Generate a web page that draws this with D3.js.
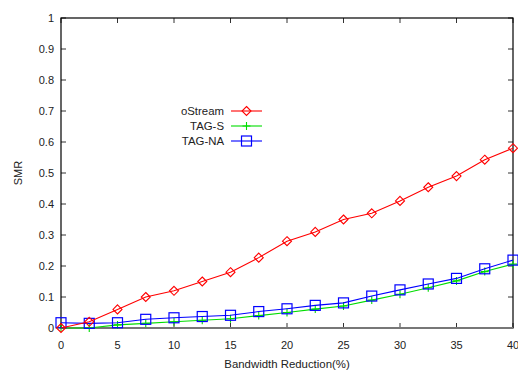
<!DOCTYPE html>
<html>
<head>
<meta charset="utf-8">
<script src="https://cdn.jsdelivr.net/npm/d3@7"></script>
<style>
  body { margin: 0; background: #fff; }
  text { font-family: "Liberation Sans", Arial, sans-serif; fill: #222; }
</style>
</head>
<body>
<div id="chart"></div>
<script>
// bandwidth reduction (%) on x
let xValues = [0, 2.5, 5, 7.5, 10, 12.5, 15, 17.5, 20, 22.5, 25, 27.5, 30, 32.5, 35, 37.5, 40];
let oStream = [0.0, 0.02, 0.06, 0.10, 0.12, 0.15, 0.18, 0.227, 0.28, 0.31, 0.35, 0.37, 0.41, 0.454, 0.49, 0.543, 0.58];
let tagS = [0.0, 0.0, 0.01, 0.015, 0.02, 0.025, 0.03, 0.04, 0.05, 0.061, 0.071, 0.09, 0.109, 0.13, 0.152, 0.182, 0.206];
let tagNA = [0.017, 0.015, 0.017, 0.028, 0.033, 0.037, 0.041, 0.053, 0.062, 0.073, 0.081, 0.103, 0.123, 0.142, 0.16, 0.191, 0.219];
let xTicks = [0, 5, 10, 15, 20, 25, 30, 35, 40];
let yTicks = [0, 0.1, 0.2, 0.3, 0.4, 0.5, 0.6, 0.7, 0.8, 0.9, 1];
let seriesNames = ["oStream", "TAG-S", "TAG-NA"];

let w = 518, h = 371;
let pLeft = 61, pRight = 513, pTop = 18, pBottom = 328;

let svg = d3.select("#chart").append("svg")
  .attr("width", w)
  .attr("height", h);

let xScale = d3.scaleLinear().domain([0, 40]).range([pLeft, pRight]);
let yScale = d3.scaleLinear().domain([0, 1]).range([pBottom, pTop]);

// inward ticks on all four sides
let tickLen = 5;
svg.append("g")
  .selectAll("line")
  .data(xTicks)
  .enter()
  .append("line")
  .attr("x1", d => xScale(d)).attr("x2", d => xScale(d))
  .attr("y1", pBottom).attr("y2", pBottom - tickLen)
  .attr("stroke", "#333");
svg.append("g")
  .selectAll("line")
  .data(xTicks)
  .enter()
  .append("line")
  .attr("x1", d => xScale(d)).attr("x2", d => xScale(d))
  .attr("y1", pTop).attr("y2", pTop + tickLen)
  .attr("stroke", "#333");
svg.append("g")
  .selectAll("line")
  .data(yTicks)
  .enter()
  .append("line")
  .attr("x1", pLeft).attr("x2", pLeft + tickLen)
  .attr("y1", d => yScale(d)).attr("y2", d => yScale(d))
  .attr("stroke", "#333");
svg.append("g")
  .selectAll("line")
  .data(yTicks)
  .enter()
  .append("line")
  .attr("x1", pRight).attr("x2", pRight - tickLen)
  .attr("y1", d => yScale(d)).attr("y2", d => yScale(d))
  .attr("stroke", "#333");

// frame
svg.append("rect")
  .attr("x", pLeft).attr("y", pTop)
  .attr("width", pRight - pLeft).attr("height", pBottom - pTop)
  .attr("fill", "none")
  .attr("stroke", "#000")
  .attr("stroke-width", 1.2);
svg.append("line")
  .attr("x1", pLeft).attr("x2", pRight)
  .attr("y1", pBottom).attr("y2", pBottom)
  .attr("stroke", "#777")
  .attr("stroke-width", 2);

// tick labels
svg.selectAll("text.xl")
  .data(xTicks)
  .enter()
  .append("text")
  .attr("class", "xl")
  .attr("x", d => xScale(d))
  .attr("y", pBottom + 21)
  .attr("text-anchor", "middle")
  .attr("font-size", "11px")
  .text(d => d);

svg.selectAll("text.yl")
  .data(yTicks)
  .enter()
  .append("text")
  .attr("class", "yl")
  .attr("x", pLeft - 7)
  .attr("y", d => yScale(d) + 4)
  .attr("text-anchor", "end")
  .attr("font-size", "11px")
  .text(d => d);

// axis titles
svg.append("text")
  .attr("transform", "translate(22," + ((pTop + pBottom) / 2) + ") rotate(-90)")
  .attr("text-anchor", "middle")
  .attr("font-size", "11px")
  .text("SMR");
svg.append("text")
  .attr("x", (pLeft + pRight) / 2)
  .attr("y", 368)
  .attr("text-anchor", "middle")
  .attr("font-size", "11.4px")
  .text("Bandwidth Reduction(%)");

let line = d3.line()
  .x(d => xScale(d[0]))
  .y(d => yScale(d[1]));

function drawMarker(g, type, color, x, y) {
  if (type === "diamond") {
    g.append("path")
      .attr("d", "M" + x + "," + (y - 4.5) + "L" + (x + 4.5) + "," + y + "L" + x + "," + (y + 4.5) + "L" + (x - 4.5) + "," + y + "Z")
      .attr("fill", "none").attr("stroke", color).attr("stroke-width", 1.1);
  } else if (type === "plus") {
    g.append("path")
      .attr("d", "M" + (x - 4) + "," + y + "H" + (x + 4) + "M" + x + "," + (y - 4) + "V" + (y + 4))
      .attr("fill", "none").attr("stroke", color).attr("stroke-width", 1.1);
  } else {
    g.append("rect")
      .attr("x", x - 5).attr("y", y - 5)
      .attr("width", 10).attr("height", 10)
      .attr("fill", "none").attr("stroke", color).attr("stroke-width", 1.2);
  }
}

let series = [
  { name: seriesNames[0], values: oStream, color: "#ff0000", marker: "diamond" },
  { name: seriesNames[1], values: tagS, color: "#00dd00", marker: "plus" },
  { name: seriesNames[2], values: tagNA, color: "#0000ff", marker: "square" }
];

// draw green first, then blue, red on top
[series[1], series[2], series[0]].forEach(function(s) {
  let pts = xValues.map((x, i) => [x, s.values[i]]);
  let g = svg.append("g");
  g.append("path")
    .datum(pts)
    .attr("d", line)
    .attr("fill", "none")
    .attr("stroke", s.color)
    .attr("stroke-width", 1.1);
  pts.forEach(function(p) {
    drawMarker(g, s.marker, s.color, xScale(p[0]), yScale(p[1]));
  });
});

// legend
let legY = [111, 126, 141];
series.forEach(function(s, i) {
  let g = svg.append("g");
  g.append("text")
    .attr("x", 224)
    .attr("y", legY[i] + 4)
    .attr("text-anchor", "end")
    .attr("font-size", "11.4px")
    .text(s.name);
  g.append("line")
    .attr("x1", 231).attr("x2", 262)
    .attr("y1", legY[i]).attr("y2", legY[i])
    .attr("stroke", s.color)
    .attr("stroke-width", 1.1);
  drawMarker(g, s.marker, s.color, 246.5, legY[i]);
});
</script>
</body>
</html>
